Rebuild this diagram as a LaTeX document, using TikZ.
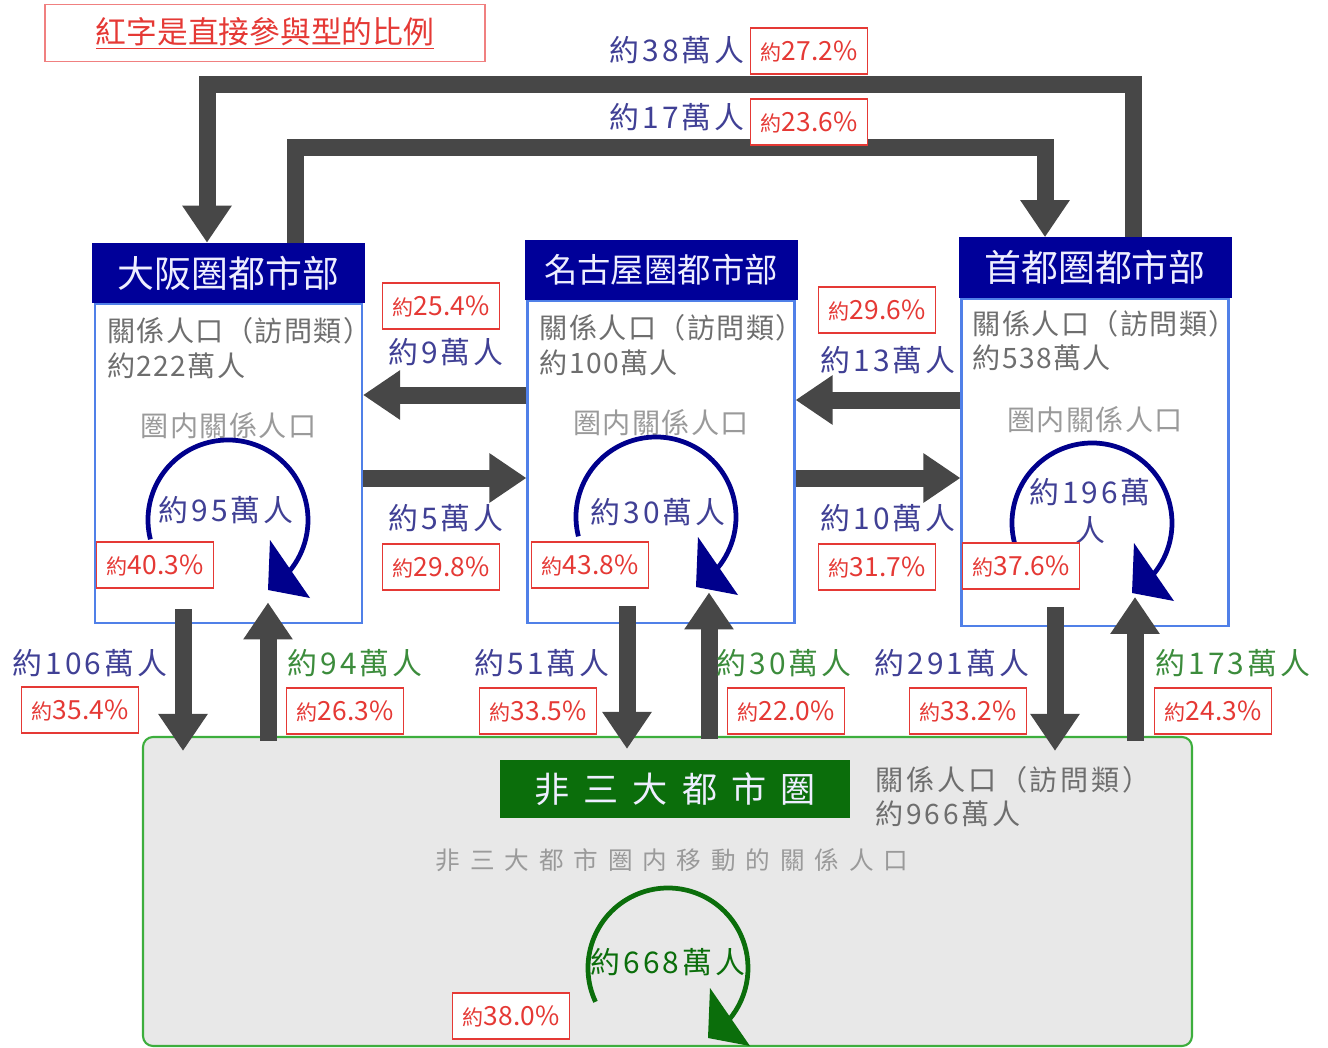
\documentclass[tikz,border=0pt]{standalone}
\usepackage{fontspec}
\setmainfont{Noto Sans CJK TC}
\newfontfamily\spaced[LetterSpace=10]{Noto Sans CJK TC}
\newfontfamily\lightspaced[LetterSpace=5]{Noto Sans CJK TC}
\newfontfamily\widespaced[LetterSpace=40]{Noto Sans CJK TC}
\usetikzlibrary{arrows.meta,positioning,calc}

\definecolor{hdrblue}{HTML}{000099}
\definecolor{hdrtext}{HTML}{EEEEFF}
\definecolor{boxblue}{HTML}{5080E8}
\definecolor{flowgray}{HTML}{474747}
\definecolor{flowblue}{HTML}{404095}
\definecolor{flowgreen}{HTML}{3C8C3C}
\definecolor{pctred}{HTML}{E53935}
\definecolor{legendred}{HTML}{F08080}
\definecolor{infogray}{HTML}{6E6E6E}
\definecolor{innergray}{HTML}{9A9A9A}
\definecolor{circblue}{HTML}{00008C}
\definecolor{restfill}{HTML}{E8E8E8}
\definecolor{restgreen}{HTML}{3DAE3D}
\definecolor{darkgreen}{HTML}{0B6E0B}

\newcommand\yue{{\fontsize{12}{12}\selectfont 約}}

\begin{document}
\begin{tikzpicture}[x=0.2mm, y=-0.2mm,
    flow/.style={draw=flowgray, line width=3.4mm, line join=miter,
        -{Triangle[width=9.4mm,length=7.4mm]}},
    hdr/.style={fill=hdrblue, text=hdrtext, minimum width=54.6mm, minimum height=12mm,
        font=\fontsize{21}{21}\selectfont},
    body/.style={draw=boxblue, line width=1.2pt, fill=white, minimum width=53.4mm},
    info/.style={text=infogray, align=left, inner sep=0pt,
        font={\lightspaced\fontsize{16}{19.5}\selectfont}},
    inner/.style={text=innergray, font={\lightspaced\fontsize{16}{16}\selectfont}},
    bluelbl/.style={text=flowblue, inner sep=0pt, align=center,
        font={\spaced\fontsize{17}{21.5}\selectfont}},
    greenlbl/.style={bluelbl, text=flowgreen},
    pct/.style={draw=pctred, line width=0.8pt, fill=white, text=pctred, inner sep=0pt,
        minimum width=23.4mm, minimum height=9.2mm, font=\fontsize{15}{15}\selectfont},
    selfloop/.style={draw=circblue, line width=0.95mm},
]
    \useasboundingbox (0,0) rectangle (1328,1048);

    % legend
    \node [draw=legendred, line width=0.8pt, text=pctred, minimum width=88mm,
        minimum height=11.4mm, font=\fontsize{17.5}{17.5}\selectfont]
        (legend) at (265,33) {\underline{紅字是直接參與型的比例}};

    % the three city boxes
    \node [hdr] (osakaH) at (228.5,273) {};
    \node [body, minimum height=63.8mm, below=0pt of osakaH] (osaka) {};
    \node [hdr] (nagoyaH) at (661,270) {};
    \node [body, minimum height=64.4mm, below=0pt of nagoyaH] (nagoya) {};
    \node [hdr] (tokyoH) at (1095,267.5) {};
    \node [body, minimum height=65.4mm, below=0pt of tokyoH] (tokyo) {};
    \node [hdr] at (osakaH) {大阪圏都市部};
    \node [hdr, font=\fontsize{19}{19}\selectfont] at (nagoyaH) {名古屋圏都市部};
    \node [hdr] at (tokyoH) {首都圏都市部};

    \node [info, anchor=north west] (osakaI) at ($(osaka.north west)+(13,14)$)
        {關係人口（訪問類）\\約222萬人};
    \node [info, anchor=north west] (nagoyaI) at ($(nagoya.north west)+(13,14)$)
        {關係人口（訪問類）\\約100萬人};
    \node [info, anchor=north west] (tokyoI) at ($(tokyo.north west)+(12,12)$)
        {關係人口（訪問類）\\約538萬人};
    \foreach \c in {osaka, nagoya, tokyo}
        \node [inner] (\c N) at ($(\c.north)+(0,122)$) {圏内關係人口};

    % loops inside the boxes
    \coordinate (osakaC) at (228,520);
    \coordinate (nagoyaC) at (656,517);
    \coordinate (tokyoC) at (1092,523);
    \foreach \c in {osakaC, nagoyaC, tokyoC} {
        \draw [selfloop] (\c) ++(194:16mm) arc[start angle=194, end angle=-40, radius=16mm];
        \fill [circblue] ($(\c)+(42,20)$) -- ($(\c)+(40,70)$) -- ($(\c)+(82,78)$) -- cycle;
    }
    \node [bluelbl] (osakaL) at (226,510) {約95萬人};
    \node [bluelbl] (nagoyaL) at (658,512) {約30萬人};
    \node [bluelbl] (tokyoL) at (1090,511) {約196萬\\人};
    \node [pct] (osakaP) at (155,565) {\yue 40.3\%};
    \node [pct] (nagoyaP) at (590,565) {\yue 43.8\%};
    \node [pct] (tokyoP) at (1021,566) {\yue 37.6\%};

    % flows between the city boxes
    \draw [flow] (nagoya.west |- 0,395) -- (osaka.east |- 0,395);
    \draw [flow] (osaka.east |- 0,478) -- (nagoya.west |- 0,478);
    \draw [flow] (tokyo.west |- 0,400) -- (nagoya.east |- 0,400);
    \draw [flow] (nagoya.east |- 0,478) -- (tokyo.west |- 0,478);
    \node [pct] (p254) at (441,306) {\yue 25.4\%};
    \node [bluelbl] (f9) at (446,352) {約9萬人};
    \node [bluelbl] (f5) at (446,518) {約5萬人};
    \node [pct] (p298) at (441,567) {\yue 29.8\%};
    \node [pct] (p296) at (877,310) {\yue 29.6\%};
    \node [bluelbl] (f13) at (888,360) {約13萬人};
    \node [bluelbl] (f10) at (888,518) {約10萬人};
    \node [pct] (p317) at (877,567) {\yue 31.7\%};

    % flows over the top
    \coordinate (t38) at (1133,85);
    \coordinate (o38) at (207,85);
    \coordinate (o17) at (295,148);
    \coordinate (t17) at (1045,148);
    \draw [flow] (tokyoH.north -| t38) -- (t38) -- (o38) -- (osakaH.north -| o38);
    \draw [flow] (osakaH.north -| o17) -- (o17) -- (t17) -- (tokyoH.north -| t17);
    \node [bluelbl] (f38) at (677,50) {約38萬人};
    \node [pct] (p272) at (809,51) {\yue 27.2\%};
    \node [bluelbl] (f17) at (677,117) {約17萬人};
    \node [pct] (p236) at (809,122) {\yue 23.6\%};

    % the rest of the country
    \node [draw=restgreen, line width=1.2pt, fill=restfill, rounded corners=2mm,
        minimum width=209.8mm, minimum height=61.8mm] (rest) at (667.5,891.5) {};
    \node [fill=darkgreen, text=hdrtext, minimum width=70mm, minimum height=11.6mm,
        font={\widespaced\fontsize{20}{20}\selectfont}] (restH) at (675,789) {非三大都市圏};
    \node [info, anchor=north west, font={\spaced\fontsize{16}{19.5}\selectfont}]
        (restI) at (875,766) {關係人口（訪問類）\\約966萬人};
    \node [inner, text=innergray, font={\widespaced\fontsize{14}{14}\selectfont}]
        (restN) at (672,860) {非三大都市圏内移動的關係人口};
    \coordinate (restC) at (668,968);
    \draw [selfloop, draw=darkgreen] (restC) ++(205:16mm) arc[start angle=205, end angle=-40, radius=16mm];
    \fill [darkgreen] ($(restC)+(42,20)$) -- ($(restC)+(40,70)$) -- ($(restC)+(82,78)$) -- cycle;
    \node [greenlbl, text=darkgreen] (restL) at (668,962) {約668萬人};
    \node [pct] (p380) at (511,1016) {\yue 38.0\%};

    % flows to and from the rest
    \draw [flow] ($(osaka.south -| 183,0)+(0,-15)$) -- ($(rest.north -| 183,0)+(0,15)$);
    \draw [flow] ($(rest.north -| 268,0)+(0,5)$) -- ($(osaka.south -| 268,0)+(0,-22)$);
    \draw [flow] ($(nagoya.south -| 627,0)+(0,-18)$) -- ($(rest.north -| 627,0)+(0,13)$);
    \draw [flow] ($(rest.north -| 709,0)+(0,3)$) -- ($(nagoya.south -| 709,0)+(0,-32)$);
    \draw [flow] ($(tokyo.south -| 1055,0)+(0,-20)$) -- ($(rest.north -| 1055,0)+(0,15)$);
    \draw [flow] ($(rest.north -| 1135,0)+(0,5)$) -- ($(tokyo.south -| 1135,0)+(0,-30)$);
    \node [bluelbl] (f106) at (90,663) {約106萬人};
    \node [pct] (p354) at (80,710) {\yue 35.4\%};
    \node [greenlbl] (f94) at (355,663) {約94萬人};
    \node [pct] (p263) at (345,711) {\yue 26.3\%};
    \node [bluelbl] (f51) at (542,663) {約51萬人};
    \node [pct] (p335) at (538,711) {\yue 33.5\%};
    \node [greenlbl] (f30) at (784,663) {約30萬人};
    \node [pct] (p220) at (786,711) {\yue 22.0\%};
    \node [bluelbl] (f291) at (952,663) {約291萬人};
    \node [pct] (p332) at (968,711) {\yue 33.2\%};
    \node [greenlbl] (f173) at (1233,663) {約173萬人};
    \node [pct] (p243) at (1213,711) {\yue 24.3\%};
\end{tikzpicture}
\end{document}
